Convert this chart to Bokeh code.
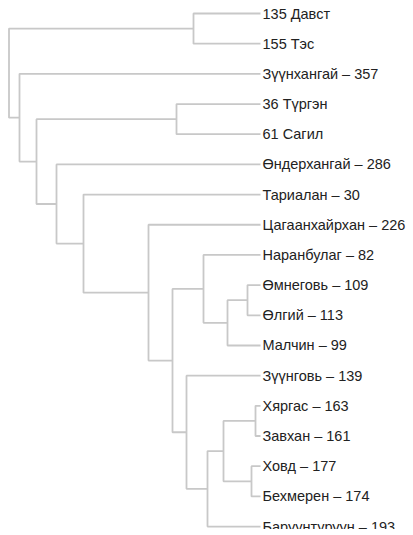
from bokeh.plotting import figure
from bokeh.models import Range1d, ColumnDataSource
from bokeh.core.properties import value
from bokeh.embed import file_html
from bokeh.resources import INLINE

# Leaf labels, top to bottom
labels = [
    "135 Давст", "155 Тэс", "Зүүнхангай – 357", "36 Түргэн", "61 Сагил",
    "Өндерхангай – 286", "Тариалан – 30", "Цагаанхайрхан – 226",
    "Наранбулаг – 82", "Өмнеговь – 109", "Өлгий – 113", "Малчин – 99",
    "Зүүнговь – 139", "Хяргас – 163", "Завхан – 161", "Ховд – 177",
    "Бехмерен – 174", "Баруунтуруун – 193",
]

# Merges (scipy-like): node ids 0..17 are leaves, 18.. are merges in order
merge_left = [0, 3, 9, 20, 8, 13, 15, 23, 25, 12, 22, 7, 6, 5, 19, 2, 18]
merge_right = [1, 4, 10, 11, 21, 14, 16, 24, 17, 26, 27, 28, 29, 30, 31, 32, 33]
merge_height = [67, 84, 13, 33, 57, 5, 9, 37, 53, 74, 88, 112, 177, 204, 224, 241, 251.5]

n = len(labels)
node_h = [0.0] * n
node_y = [float(i) for i in range(n)]

xs, ys = [], []
for a, b, h in zip(merge_left, merge_right, merge_height):
    ya, yb = node_y[a], node_y[b]
    xs.append([node_h[a], h, h, node_h[b]])
    ys.append([ya, ya, yb, yb])
    node_h.append(float(h))
    node_y.append((ya + yb) / 2.0)

W, H = 412, 529
p = figure(
    width=W, height=H,
    x_range=Range1d(start=260, end=260 - W),
    y_range=Range1d(start=(H - 13) / 30.18, end=-13 / 30.18),
    output_backend="svg", toolbar_location=None,
    min_border=0, min_border_left=0, min_border_right=0,
    min_border_top=0, min_border_bottom=0,
)
p.xaxis.visible = False
p.yaxis.visible = False
p.xgrid.visible = False
p.ygrid.visible = False
p.outline_line_color = None
p.background_fill_color = "white"
p.border_fill_color = "white"

p.multi_line(xs=xs, ys=ys, line_color="#c8c8c8", line_width=1.8)

src = ColumnDataSource(dict(x=[0.0] * n, y=list(range(n)), t=labels))
p.text(x="x", y="y", text="t", source=src, x_offset=2,
       text_baseline="middle", text_align="left",
       text_font=value("Liberation Sans"), text_font_size="14.5px",
       text_color="#222222")

open("out.html", "w").write(file_html(p, INLINE))
